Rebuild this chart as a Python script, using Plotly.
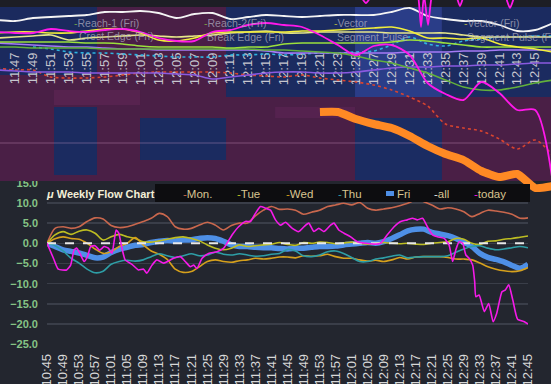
import plotly.graph_objects as go

W, H = 551, 384
FONT = "Liberation Sans, Arial, sans-serif"

# ---------------- bottom chart data (minutes after 10:45) ----------------
BOTTOM_MIN = list(range(0, 121, 2))
BOTTOM_TICK_MIN = list(range(0, 121, 4))
BOTTOM_TICK_LABELS = ["10:45", "10:49", "10:53", "10:57", "11:01", "11:05", "11:09", "11:13",
                      "11:17", "11:21", "11:25", "11:29", "11:33", "11:37", "11:41", "11:45",
                      "11:49", "11:53", "11:57", "12:01", "12:05", "12:09", "12:13", "12:17",
                      "12:21", "12:25", "12:29", "12:33", "12:37", "12:41", "12:45"]

MON = [0.0, 3.7, 4.1, 3.7, 4.1, 5.4, 6.3, 6.0, 4.4, 3.9, 4.1, 4.7, 5.4, 6.2, 7.4,
       6.6, 4.1, 3.5, 3.7, 4.5, 5.2, 4.5, 3.3, 4.4, 5.0, 5.0, 6.8, 8.2, 9.1, 8.4,
       8.5, 8.2, 7.2, 7.7, 8.2, 9.1, 9.5, 9.9, 9.5, 10.1, 8.7, 8.2, 8.5, 8.8, 9.3,
       9.9, 10.7, 10.3, 9.5, 8.5, 8.8, 8.5, 7.8, 6.6, 7.4, 8.2, 8.0, 7.7, 7.2, 6.2, 6.3]
TUE = [0.0, 2.1, 2.9, 2.2, 3.0, 3.3, 2.5, 0.8, 1.6, 2.2, 1.6, 1.2, 0.4, 0.3, 0.6,
       1.0, 1.4, 1.6, 1.2, 0.6, -0.4, -1.2, -1.6, -1.2, -0.4, -0.8, -0.6, -0.4, -0.2, 0.2,
       -0.3, -0.5, 0.2, 0.0, 0.3, 0.2, -0.1, 0.1, 0.3, 0.0, -0.2, 0.0, 0.2, 0.0, -0.1,
       0.0, -0.2, -0.3, 0.0, 0.2, 0.4, 1.2, 1.0, 0.0, -0.3, 0.5, 0.6, 1.0, 1.2, 1.5, 1.8]
WED = [0.0, 1.1, 1.6, 1.2, 1.0, 0.0, -1.4, -2.5, -2.1, -0.8, 0.0, 1.4, -0.4, -1.9, -2.7,
       -4.0, -6.4, -7.2, -7.0, -5.8, -4.5, -4.1, -4.5, -4.7, -4.3, -4.1, -3.7, -3.9, -3.7, -3.4,
       -3.4, -3.6, -3.1, -3.2, -3.1, -2.7, -3.3, -3.7, -3.7, -4.1, -4.4, -4.2, -4.5, -4.1, -3.5,
       -3.9, -3.4, -3.3, -3.3, -3.3, -3.5, -3.9, -3.9, -4.1, -4.9, -5.8, -6.4, -6.8, -7.0, -6.8, -6.0]
THU = [0.0, -0.6, -1.9, -3.7, -4.9, -6.4, -7.3, -6.9, -5.2, -4.5, -4.2, -4.4, -4.1, -3.3, -2.6,
       -3.1, -3.5, -3.1, -2.6, -3.1, -2.9, -2.2, -2.7, -2.9, -2.6, -2.9, -3.2, -3.1, -2.7, -2.5,
       -1.5, -1.9, -3.1, -3.3, -2.9, -2.1, -1.9, -2.5, -3.5, -4.5, -4.5, -3.9, -3.6, -3.2, -2.9,
       -3.6, -3.4, -3.3, -3.3, -3.3, -3.1, -2.2, -1.4, -0.8, -0.6, -1.2, -1.6, -1.4, -1.1, -0.8, -1.1]
FRI = [0.0, -0.8, -1.6, -2.0, -2.4, -3.0, -3.6, -3.4, -2.3, -1.5, -1.0, -0.5, -0.3, 0.2, 0.5,
       0.7, 0.6, 0.8, 0.9, 1.2, 1.4, 1.2, 0.5, -0.4, -0.8, -0.8, -1.0, -1.1, -1.1, -1.3,
       -1.4, -1.2, -1.2, -1.0, -0.8, -0.8, -0.7, -0.4, -0.2, 0.0, 0.2, 0.0, 0.4, 1.2, 2.1,
       3.1, 3.5, 3.5, 2.7, 2.3, 1.9, 1.2, 0.2, -0.8, -2.5, -3.5, -4.0, -4.6, -5.5, -6.2, -5.2]
ALL_MIN = [0, 120]
ALL = [0.0, 0.0]
TODAY_MIN = [0, 1.6, 2.8, 4.9, 5.9, 6.75, 7.4, 8.4, 9.25, 10.1, 10.9, 12, 13.1, 14.25, 15.3, 16.2,
             17.25, 17.9, 18.7, 19.5, 21.2, 22.8, 24.1, 24.9, 26.2, 27.4, 29.1, 31.6, 33.25, 34.5,
             35.75, 36.6, 37.4, 38.7, 40.3, 42.4, 44.1, 44.9, 46.2, 47.8, 49.5, 50.75, 52, 53.25,
             54.5, 55.75, 57, 58.25, 59.5, 61.2, 62.8, 64.1, 65.3, 66.6, 67.8, 69.1, 70.75, 71.6,
             72.8, 74.1, 75.75, 77.4, 79.5, 81.6, 83.25, 84.9, 86.6, 88.25, 89.9, 91.2, 92.4, 93.7,
             94.9, 96.2, 97.4, 99.1, 100.3, 101.2, 102, 102.8, 103.7, 104.5, 105.3, 106.2, 106.7,
             107, 107.8, 109.1, 110.2, 111.3, 112.2, 113.5, 114.3, 115.2, 116.2, 117.4, 119.1, 120]
TODAY = [0, -3.7, -6.4, -6.6, -5.4, -1.7, -1.2, -2.9, -4.5, -3.3, -0.8, -0.6, -1.7, -0.8, -1.2, -2.5,
         3.3, 2.5, -1.2, -4.1, -5.2, -6.6, -6.4, -7.4, -5.4, -4.1, -4.9, -3.7, -3.3, -4.5,
         -5.8, -5.4, -6.2, -3.7, -2.5, -2.1, -1.2, 0.0, 2.1, 4.1, 5.4, 5.4, 7.4, 9.1,
         8.7, 8.2, 5.8, 4.5, 5.2, 3.7, 2.9, 4.1, 5.0, 2.9, 3.7, 2.9, 4.5, 5.0,
         3.3, 2.5, 1.6, 0.4, 0.0, -0.2, 0.0, 2.1, 4.1, 5.4, 5.8, 6.2, 5.8, 6.2,
         4.1, 2.1, 1.6, 1.2, -0.4, -4.5, -1.6, 0.4, 0.0, -2.9, -3.7, -5.4, -9.5,
         -13.2, -12.8, -16.9, -14.9, -19.4, -17.3, -12.0, -11.6, -10.3, -14.0, -18.8, -19.4, -20.0]

# ---------------- top panel data (minutes after 10:45, arbitrary level) ----------------
TOP_MIN = list(range(60, 123, 2))
TOP_TICK_MIN = list(range(62, 121, 2))
TOP_TICK_LABELS = ["11:47", "11:49", "11:51", "11:53", "11:55", "11:57", "11:59", "12:01",
                   "12:03", "12:05", "12:07", "12:09", "12:11", "12:13", "12:15", "12:17",
                   "12:19", "12:21", "12:23", "12:25", "12:27", "12:29", "12:31", "12:33",
                   "12:35", "12:37", "12:39", "12:41", "12:43", "12:45"]
WHITE_T = [16.3, 16.2, 16.5, 16.6, 16.7, 16.8, 17.1, 17.1, 17.2, 17.0, 16.5, 16.9, 17.0, 16.4, 16.6, 16.8,
           16.7, 16.6, 16.7, 16.8, 16.8, 16.8, 17.1, 17.5, 16.7, 16.4, 16.2, 16.2, 15.8, 15.2, 15.3, 16.0]
MAGENTA_T = [15.1, 15.0, 15.0, 15.4, 15.2, 15.1, 15.3, 15.4, 15.1, 14.5, 14.2, 14.2, 15.1, 15.3, 15.8, 16.0,
             15.8, 15.6, 14.8, 13.8, 12.8, 13.7, 13.8, 12.8, 10.0, 8.9, 8.3, 10.1, 9.0, 7.3, 7.3, -0.2]
YELLOW_T = [15.0, 15.1, 15.1, 15.0, 15.0, 15.2, 15.4, 15.4, 15.0, 14.3, 14.2, 14.5, 15.0, 15.1, 15.1, 15.1,
            15.1, 15.2, 15.2, 15.3, 15.4, 15.5, 15.6, 15.2, 14.5, 14.5, 14.4, 14.5, 13.9, 13.6, 13.4, 13.1]
PALE_T = [14.5, 14.6, 14.7, 14.8, 14.3, 14.5, 14.6, 14.7, 14.8, 14.7, 14.6, 14.7, 14.8, 15.0, 15.1, 15.2,
          15.0, 15.0, 15.1, 15.1, 15.1, 15.1, 15.0, 15.0, 15.0, 15.0, 14.8, 14.6, 14.6, 14.6, 14.6, 14.6]
LIME_T = [14.1, 14.1, 14.1, 14.1, 14.1, 14.0, 14.0, 13.9, 13.7, 13.6, 13.6, 13.6, 13.6, 13.5, 13.6, 13.6,
          13.9, 14.0, 14.0, 14.0, 14.0, 14.0, 14.1, 14.3, 14.2, 14.0, 13.8, 13.6, 13.6, 13.6, 13.6, 13.6]
GREEN_T = [13.6, 13.6, 13.5, 13.5, 13.5, 13.5, 13.4, 13.4, 13.4, 13.4, 13.4, 13.4, 13.4, 13.4, 13.4, 13.3,
           13.3, 13.2, 13.1, 13.0, 12.7, 12.3, 12.0, 11.5, 11.0, 10.3, 9.6, 9.3, 9.3, 9.6, 10.0, 10.3]
PURPLE_A_T = [14.0, 13.9, 13.8, 13.7, 13.6, 13.6, 13.5, 13.4, 13.4, 13.3, 13.3, 13.3, 13.3, 13.3, 13.3, 13.2,
              13.0, 13.0, 13.0, 13.0, 13.0, 13.0, 13.0, 13.1, 13.1, 13.1, 13.2, 13.2, 13.3, 13.3, 13.3, 13.3]
PURPLE_B_T = [11.3, 11.2, 11.1, 11.1, 11.1, 11.0, 11.0, 11.0, 11.0, 11.0, 10.9, 10.8, 10.4, 10.6, 10.8, 11.0,
              11.1, 11.1, 11.0, 11.0, 11.1, 11.3, 11.5, 11.6, 11.6, 11.7, 11.7, 11.8, 11.8, 11.9, 12.0, 12.0]
CYAN_T = [None, None, 13.6, 13.4, 13.1, 13.0, 13.0, 12.9, 12.8, 12.7, 12.6, 12.6, 12.6, 12.8, 12.8, 12.9,
          12.8, 12.9, 13.0, 13.0, 13.1, 13.2, 13.8, 14.6, 13.9, 13.7, 14.2, 14.4, 14.6, 14.6, 14.7, 14.7]
RED_T = [11.5, 11.3, 11.3, 10.6, 10.5, 10.5, 10.6, 10.8, 11.0, 11.1, 11.1, 11.1, 11.1, 11.0, 10.8, 10.7,
         10.6, 10.8, 10.5, 10.3, 10.1, 9.8, 9.3, 8.6, 7.7, 5.9, 5.5, 5.2, 4.4, 3.4, 4.3, 2.7]
ORANGE_T = [None] * 18 + [7.1, 7.1, 6.4, 5.9, 5.5, 4.7, 3.7, 2.9, 2.3, 1.2, 0.6, 0.9, -0.5, -0.3]
SPIKE_MIN = [100.0, 100.46, 101.13, 101.8, 102.3, 106.5, 106.93, 107.27, 107.6, 108.05, 108.49, 109.0,
             110.7, 111.17, 111.61, 112.06, 112.5, 116.1, 116.63, 117.19, 117.74, 118.2]
SPIKE = [19.5, 18.8, 18.0, 18.8, 19.5, 19.5, 18.8, 15.6, 18.8, 15.8, 18.8, 19.5,
         19.5, 18.8, 17.7, 18.8, 19.5, 19.5, 18.8, 17.5, 18.8, 19.5]

# background bands of the top panel: (start, end, low, high, colour)
BANDS = [
    (60.0, 122.0, 17.6, 18.4, "#1d1e25"),
    (60.0, 122.0, 0.2, 17.6, "#4a1f46"),
    (66.35, 75.94, 7.8, 9.3, "#57234f"),
    (91.0, 99.91, 6.5, 7.6, "#55224f"),
    (60.0, 71.14, 10.8, 17.6, "#1b2a5e"),
    (85.53, 99.91, 8.6, 17.6, "#1b2b60"),
    (99.91, 109.6, 8.6, 17.6, "#2a3d88"),
    (109.6, 122.0, 8.6, 17.6, "#1b2b60"),
    (66.35, 71.14, 0.8, 7.6, "#1b2b60"),
    (75.94, 85.53, 2.3, 6.5, "#1b2b60"),
    (99.91, 109.6, 0.3, 6.5, "#1b2c62"),
]

def px(x):
    return x / W

def py(y):
    return 1 - y / H

fig = go.Figure()

# ---- top panel traces ----
top_series = [
    (RED_T, "#d9442f", 1.6, "dot"),
    (CYAN_T, "#2fb4e0", 1.6, "dot"),
    (PURPLE_B_T, "#8a5ae0", 1.6, "solid"),
    (PURPLE_A_T, "#a57af5", 1.6, "solid"),
    (GREEN_T, "#62b03c", 1.6, "solid"),
    (LIME_T, "#9be03c", 1.6, "solid"),
    (PALE_T, "#e6e68a", 1.6, "solid"),
    (YELLOW_T, "#f2ee3a", 1.6, "solid"),
    (WHITE_T, "#f4f4f4", 1.8, "solid"),
    (MAGENTA_T, "#ff18ea", 1.8, "solid"),
]
for vals, col, wdt, dash in top_series:
    fig.add_trace(go.Scatter(x=TOP_MIN, y=vals, mode="lines", xaxis="x2", yaxis="y2",
                             line=dict(color=col, width=wdt, dash=dash, shape="spline", smoothing=0.8),
                             showlegend=False, hoverinfo="skip"))
fig.add_trace(go.Scatter(x=SPIKE_MIN, y=SPIKE, mode="lines", xaxis="x2", yaxis="y2",
                         line=dict(color="#ff18ea", width=1.8, shape="spline", smoothing=0.6),
                         showlegend=False, hoverinfo="skip"))
fig.add_trace(go.Scatter(x=TOP_MIN, y=ORANGE_T, mode="lines", xaxis="x2", yaxis="y2",
                         line=dict(color="#ff8a24", width=8, shape="spline", smoothing=0.5),
                         showlegend=False, hoverinfo="skip"))

# ---- bottom chart traces ----
fig.add_trace(go.Scatter(x=BOTTOM_MIN, y=FRI, mode="lines", name="Fri",
                         line=dict(color="#4e8fe6", width=5.5, shape="spline", smoothing=0.8),
                         showlegend=False, hoverinfo="skip"))
bottom_series = [
    ("Mon.", MON, "#c9674d"),
    ("Tue", TUE, "#bdbd22"),
    ("Wed", WED, "#d6a01c"),
    ("Thu", THU, "#2e9ea6"),
]
for name, vals, col in bottom_series:
    fig.add_trace(go.Scatter(x=BOTTOM_MIN, y=vals, mode="lines", name=name,
                             line=dict(color=col, width=1.6, shape="spline", smoothing=0.8),
                             showlegend=False, hoverinfo="skip"))
fig.add_trace(go.Scatter(x=ALL_MIN, y=ALL, mode="lines", name="all",
                         line=dict(color="#e8e8e8", width=2, dash="dash"),
                         showlegend=False, hoverinfo="skip"))
fig.add_trace(go.Scatter(x=TODAY_MIN, y=TODAY, mode="lines", name="today",
                         line=dict(color="#f51ae8", width=1.6, shape="spline", smoothing=0.5),
                         showlegend=False, hoverinfo="skip"))

shapes = []
for x0, x1, y0, y1, col in BANDS:
    shapes.append(dict(type="rect", xref="x2", yref="y2", x0=x0, x1=x1, y0=y0, y1=y1,
                       fillcolor=col, line=dict(width=0), layer="below"))
shapes.append(dict(type="line", xref="x2", yref="y2", x0=60, x1=122, y0=4.0, y1=4.0,
                   line=dict(color="rgba(225,165,215,0.35)", width=1), layer="below"))
# legend box
shapes.append(dict(type="rect", xref="paper", yref="paper", x0=px(155), x1=px(530), y0=py(202), y1=py(184),
                   fillcolor="#0d0d10", line=dict(width=0), layer="above"))
shapes.append(dict(type="line", xref="paper", yref="paper", x0=px(386), x1=px(394), y0=py(193.5), y1=py(193.5),
                   line=dict(color="#4e8fe6", width=5), layer="above"))

ann = []
ann.append(dict(text="<b><i>μ</i> Weekly Flow Chart</b>", x=px(44), y=py(194), xref="paper", yref="paper",
                xanchor="left", yanchor="middle", showarrow=False,
                font=dict(family=FONT, size=11, color="#f3efd8")))
LEG_TEXT = "#d8c490"
legend_items = [
    (181, "#c9674d", "-", "Mon."),
    (235, "#bdbd22", "-", "Tue"),
    (284, "#d6a01c", "-", "Wed"),
    (336, "#2e9ea6", "-", "Thu"),
    (395, "#4e8fe6", "", "Fri"),
    (432, "#e8e8e8", "-", "all"),
    (472, "#f51ae8", "-", "today"),
]
for x, col, dash, lab in legend_items:
    txt = (f'<span style="color:{col}">{dash}</span>{lab}' if dash else lab)
    ann.append(dict(text=txt, x=px(x), y=py(194), xref="paper", yref="paper", xanchor="left",
                    yanchor="middle", showarrow=False, font=dict(family=FONT, size=11.5, color=LEG_TEXT)))

top_labels = [
    (72, 23, "#8fd040", "-", "Reach-1 (Fri)"),
    (202, 23, "#8fd040", "-", "Reach-2(Fri)"),
    (332, 23, "#e8e040", "-", "Vector"),
    (462, 23, "#e8e040", "-", "Vector (Fri)"),
    (77, 36, "", "", "Crest Edge (Fri)"),
    (205, 37, "", "", "Break Edge (Fri)"),
    (335, 37, "", "", "Segment Pulse"),
    (465, 37, "", "", "Segment Pulse (Fri)"),
]
for x, y, col, dash, lab in top_labels:
    txt = (f'<span style="color:{col}">{dash}</span>{lab}' if dash else lab)
    ann.append(dict(text=txt, x=px(x), y=py(y), xref="paper", yref="paper", xanchor="left",
                    yanchor="middle", showarrow=False,
                    font=dict(family=FONT, size=10.5, color="rgba(178,178,195,0.72)")))

fig.update_layout(
    width=W, height=H, margin=dict(l=0, r=0, t=0, b=0, autoexpand=False),
    paper_bgcolor="#23262f", plot_bgcolor="rgba(0,0,0,0)",
    showlegend=False, font=dict(family=FONT), hovermode=False,
    xaxis=dict(domain=[px(47), px(528)], range=[0, 120], tickmode="array",
               tickvals=BOTTOM_TICK_MIN, ticktext=BOTTOM_TICK_LABELS, tickangle=-90,
               tickfont=dict(family=FONT, size=13, color="#d8d8d8"), showgrid=False,
               zeroline=False, showline=False, ticks="", ticklabelstandoff=6, anchor="y",
               automargin=False),
    yaxis=dict(domain=[1 - 344.3 / H, 1 - 182.7 / H], range=[-25, 15], dtick=5, tick0=0,
               tickformat=".1f", gridcolor="#3a3e49", gridwidth=1.5, zeroline=False, showline=False,
               tickfont=dict(family=FONT, size=11, color="#86c486", weight="bold"),
               ticklabelstandoff=8, anchor="x", automargin=False),
    xaxis2=dict(domain=[0, 1], range=[60.33, 121.76], anchor="free", position=py(49), side="bottom",
                tickmode="array", tickvals=TOP_TICK_MIN, ticktext=TOP_TICK_LABELS, tickangle=-90,
                tickfont=dict(family=FONT, size=13, color="#c6c6ce"), showgrid=False, zeroline=False,
                showline=False, ticks="", layer="below traces", automargin=False),
    yaxis2=dict(domain=[0.5, 1.0], range=[-0.9, 18.3], visible=False, anchor="x2", automargin=False),
    shapes=shapes, annotations=ann,
)

fig.write_html("out.html", config={"displayModeBar": False, "staticPlot": True},
               post_script="document.body.style.margin='0';document.body.style.overflow='hidden';")
